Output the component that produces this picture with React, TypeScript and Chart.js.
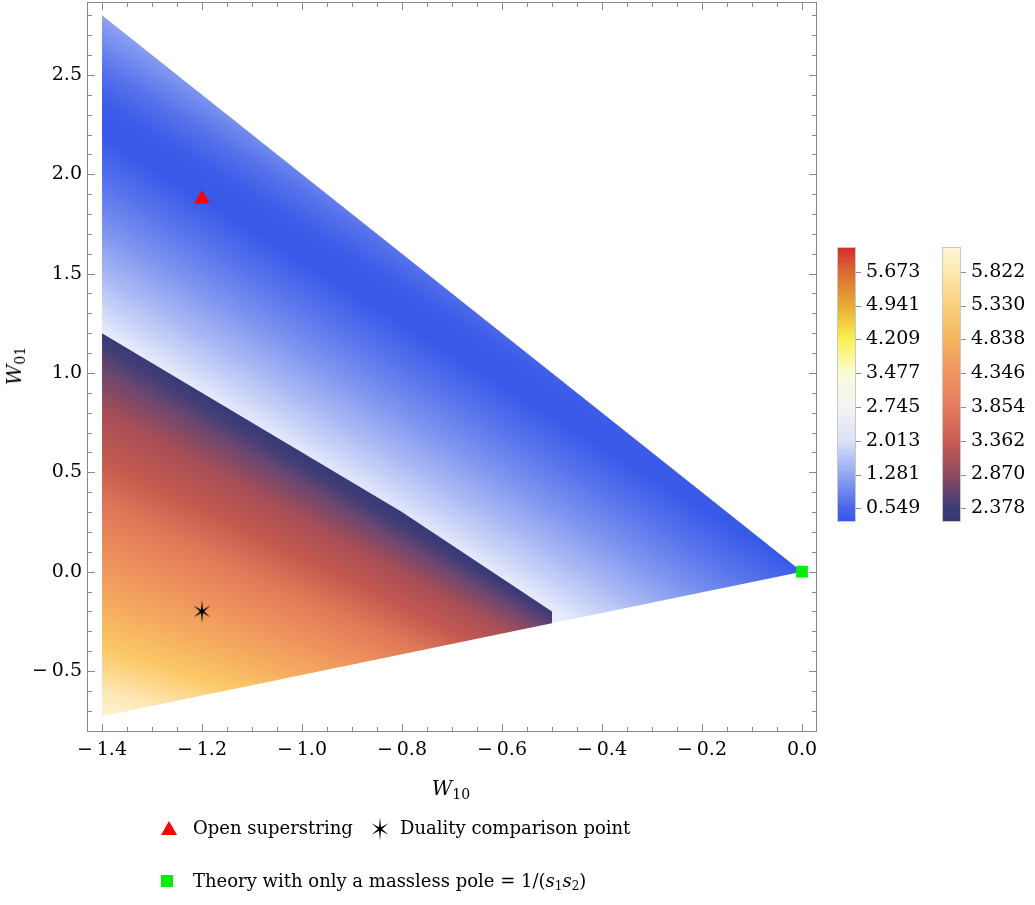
import React, { useEffect, useRef } from "react";
import { Chart, registerables } from "chart.js";
Chart.register(...registerables);

// ---- data ----
const blueRegionW10 = [-1.4, 0, -0.5, -0.5, -0.8, -1.4, -1.4];
const blueRegionW01 = [2.8, 0, -0.26, -0.2, 0.3, 1.2, 2.8];
const warmRegionW10 = [-1.4, -0.8, -0.5, -0.5, -1.4, -1.4];
const warmRegionW01 = [1.2, 0.3, -0.2, -0.26, -0.728, 1.2];
const openSuperstringW10 = [-1.2];
const openSuperstringW01 = [1.876];
const dualityPointW10 = [-1.2];
const dualityPointW01 = [-0.2];
const masslessPoleW10 = [0];
const masslessPoleW01 = [0];
const xTickValues = [-1.4, -1.2, -1.0, -0.8, -0.6, -0.4, -0.2, 0.0];
const yTickValues = [-0.5, 0.0, 0.5, 1.0, 1.5, 2.0, 2.5];
const coolBarTicks = [0.549, 1.281, 2.013, 2.745, 3.477, 4.209, 4.941, 5.673];
const warmBarTicks = [2.378, 2.87, 3.362, 3.854, 4.346, 4.838, 5.33, 5.822];

// ---- styles ----
const FONT = "'DejaVu Serif', serif";
const warmFanCenter = { x: 0.71, y: -2.07 }; // where the warm contour lines converge
const blueStops: [number, string][] = [
  [0, "#e8ecfb"], [0.07, "#cfd8f8"], [0.18, "#a9b8f4"], [0.32, "#7d94ef"],
  [0.46, "#5874ec"], [0.6, "#3858e9"], [0.7, "#3d5ce9"], [0.8, "#5571eb"], [1, "#9aaef2"],
];
// fraction 0 = boundary with the blue region (navy), 1 = far corner (cream)
const warmStops: [number, string][] = [
  [0, "#393a78"], [0.03, "#443e76"], [0.08, "#6a4670"], [0.18, "#a84e56"], [0.3, "#c45a50"],
  [0.42, "#e07858"], [0.55, "#ee905c"], [0.7, "#f6b060"], [0.8, "#fbc865"], [0.93, "#fde8b8"], [1, "#fdf3d3"],
];
const coolBarColors: [number, string][] = [
  [0.25, "#3556e8"], [0.549, "#4865ea"], [1.281, "#93a7f1"], [2.013, "#dce2f8"], [2.745, "#f3f3f3"],
  [3.477, "#fafbd6"], [4.209, "#fbf04f"], [4.941, "#e8aa35"], [5.673, "#dc6a33"], [6.21, "#d42b2b"],
];
const warmBarColors: [number, string][] = [
  [2.18, "#35366e"], [2.378, "#3c3c78"], [2.87, "#8e4a62"], [3.362, "#c85c52"], [3.854, "#e47c5c"],
  [4.346, "#ef9460"], [4.838, "#f6b45e"], [5.33, "#fbd07c"], [5.822, "#fde8b0"], [6.18, "#fdf5d6"],
];

const pts = (xs: number[], ys: number[]) => xs.map((x, i) => ({ x, y: ys[i] }));
const fmt = (v: number) => (v < -1e-9 ? "\u2212\u2009" : "") + Math.abs(v).toFixed(1);

function blueGradient(ctx: any) {
  const chart = ctx.chart;
  const { chartArea, scales } = chart;
  if (!chartArea) return "#888";
  const x = scales.x, y = scales.y;
  const ax = x.getPixelForValue(warmRegionW10[0]), ay = y.getPixelForValue(warmRegionW01[0]);
  const bx = x.getPixelForValue(warmRegionW10[2]), by = y.getPixelForValue(warmRegionW01[2]);
  const dx = bx - ax, dy = by - ay;
  const L = Math.hypot(dx, dy);
  const nx = dy / L, ny = -dx / L;
  const length = 280;
  const g = chart.ctx.createLinearGradient(ax, ay, ax + nx * length, ay + ny * length);
  blueStops.forEach(([o, c]) => g.addColorStop(o, c));
  return g;
}

function warmGradient(ctx: any) {
  const chart = ctx.chart;
  const { chartArea, scales } = chart;
  if (!chartArea) return "#888";
  const x = scales.x, y = scales.y;
  const cx = x.getPixelForValue(warmFanCenter.x), cy = y.getPixelForValue(warmFanCenter.y);
  const topX = x.getPixelForValue(warmRegionW10[0]), topY = y.getPixelForValue(warmRegionW01[0]);
  const botX = x.getPixelForValue(warmRegionW10[4]), botY = y.getPixelForValue(warmRegionW01[4]);
  let aTop = Math.atan2(topY - cy, topX - cx);
  let aBot = Math.atan2(botY - cy, botX - cx);
  if (aTop < 0) aTop += Math.PI * 2;
  if (aBot < 0) aBot += Math.PI * 2;
  const c2: any = chart.ctx;
  if (typeof c2.createConicGradient !== "function") return warmStops[5][1];
  const span = aTop - aBot;
  const g = c2.createConicGradient(aBot, cx, cy);
  warmStops.forEach(([f, c]) => g.addColorStop(((1 - f) * span) / (Math.PI * 2), c));
  g.addColorStop(Math.min(1, (span * 1.05) / (Math.PI * 2)), warmStops[0][1]);
  g.addColorStop(0.999, warmStops[warmStops.length - 1][1]);
  return g;
}

function makeStar() {
  const c = document.createElement("canvas");
  c.width = 24; c.height = 24;
  const g = c.getContext("2d")!;
  g.fillStyle = "#000";
  g.beginPath();
  const R = 11.5, r = 2.0;
  for (let k = 0; k < 12; k++) {
    const ang = -Math.PI / 2 + (k * Math.PI) / 6;
    const rad = k % 2 === 0 ? R : r;
    const px = 12 + Math.cos(ang) * rad * (k % 2 === 0 ? 0.85 : 1);
    const py = 12 + Math.sin(ang) * rad;
    if (k === 0) g.moveTo(px, py); else g.lineTo(px, py);
  }
  g.closePath();
  g.fill();
  return c;
}

const framePlugin = {
  id: "frameTicks",
  afterDraw(chart: any) {
    const { ctx, chartArea: a, scales } = chart;
    const x = scales.x, y = scales.y;
    ctx.save();
    ctx.strokeStyle = "#8a8a8a";
    ctx.lineWidth = 1;
    ctx.strokeRect(Math.round(a.left) - 0.5, Math.round(a.top) - 0.5, Math.round(a.right - a.left) + 1, Math.round(a.bottom - a.top) + 1);
    ctx.beginPath();
    for (let k = -29; k <= 0; k++) {
      const v = k * 0.05;
      if (v < x.min || v > x.max) continue;
      const major = k % 4 === 0;
      const len = major ? 7 : 4;
      const px = Math.round(x.getPixelForValue(v)) + 0.5;
      ctx.moveTo(px, a.bottom); ctx.lineTo(px, a.bottom - len);
      ctx.moveTo(px, a.top); ctx.lineTo(px, a.top + len);
    }
    for (let k = -8; k <= 29; k++) {
      const v = k * 0.1;
      if (v < y.min || v > y.max) continue;
      const major = k % 5 === 0;
      const len = major ? 7 : 4;
      const py = Math.round(y.getPixelForValue(v)) + 0.5;
      ctx.moveTo(a.left, py); ctx.lineTo(a.left + len, py);
      ctx.moveTo(a.right, py); ctx.lineTo(a.right - len, py);
    }
    ctx.stroke();

    // colour bars
    const drawBar = (left: number, ticks: number[], colors: [number, string][]) => {
      const t0 = 508.3, step = 33.8;
      const vy = (v: number) => t0 - ((v - ticks[0]) / (ticks[1] - ticks[0])) * step;
      const top = 247, bottom = 522, w = 19;
      const vTop = colors[colors.length - 1][0], vBot = colors[0][0];
      const g = ctx.createLinearGradient(0, vy(vTop), 0, vy(vBot));
      const span = vy(vBot) - vy(vTop);
      colors.forEach(([v, c]) => {
        const o = (vy(v) - vy(vTop)) / span;
        g.addColorStop(Math.min(1, Math.max(0, o)), c);
      });
      ctx.fillStyle = g;
      ctx.fillRect(left, top, w, bottom - top);
      ctx.strokeStyle = "#c8c8c8";
      ctx.strokeRect(left + 0.5, top + 0.5, w - 1, bottom - top - 1);
      ctx.strokeStyle = "#8a8a8a";
      ctx.fillStyle = "#000";
      ctx.font = `19px ${FONT}`;
      ctx.textBaseline = "middle";
      ctx.textAlign = "left";
      ctx.beginPath();
      ticks.forEach((t) => {
        const py = Math.round(vy(t)) + 0.5;
        ctx.moveTo(left + w, py); ctx.lineTo(left + w + 5, py);
      });
      ctx.stroke();
      ticks.forEach((t) => ctx.fillText(t.toFixed(3), left + w + 10, vy(t)));
    };
    drawBar(837, coolBarTicks, coolBarColors);
    drawBar(942, warmBarTicks, warmBarColors);
    ctx.restore();
  },
};

export default function App() {
  const ref = useRef<HTMLCanvasElement>(null);
  useEffect(() => {
    const canvas = ref.current!;
    const star = makeStar();
    const chart = new Chart(canvas, {
      type: "scatter",
      data: {
        datasets: [
          { data: pts(masslessPoleW10, masslessPoleW01), pointStyle: "rect", pointRadius: 8.3, backgroundColor: "#00ee00", borderWidth: 0 } as any,
          { data: pts(dualityPointW10, dualityPointW01), pointStyle: star, pointRadius: 12, backgroundColor: "#000", borderWidth: 0 } as any,
          { data: pts(openSuperstringW10, openSuperstringW01), pointStyle: "triangle", pointRadius: 9, backgroundColor: "#ff0000", borderWidth: 0 } as any,
          {
            type: "line", data: pts(warmRegionW10, warmRegionW01), showLine: true, pointRadius: 0, fill: "shape",
            borderColor: "rgba(0,0,0,0)", borderWidth: 1, tension: 0,
            backgroundColor: (ctx: any) => warmGradient(ctx),
          } as any,
          {
            type: "line", data: pts(blueRegionW10, blueRegionW01), showLine: true, pointRadius: 0, fill: "shape",
            borderColor: "rgba(0,0,0,0)", borderWidth: 1, tension: 0,
            backgroundColor: (ctx: any) => blueGradient(ctx),
          } as any,
        ],
      },
      options: {
        responsive: false,
        animation: false,
        layout: { autoPadding: false, padding: { left: 0, top: 3, right: 219, bottom: 124 } },
        plugins: { legend: { display: false }, tooltip: { enabled: false } },
        scales: {
          x: {
            type: "linear", min: -1.428, max: 0.028,
            afterBuildTicks: (s: any) => { s.ticks = xTickValues.map((v) => ({ value: v })); },
            afterFit: (s: any) => { s.height = 50; s.paddingLeft = 0; s.paddingRight = 0; },
            ticks: { callback: (v: any) => fmt(Number(v)), font: { family: FONT, size: 19 }, color: "#000", padding: 8, maxRotation: 0, autoSkip: false },
            grid: { display: false, drawTicks: false },
            border: { display: false },
          },
          y: {
            type: "linear", min: -0.802, max: 2.862,
            afterBuildTicks: (s: any) => { s.ticks = yTickValues.map((v) => ({ value: v })); },
            afterFit: (s: any) => { s.width = 88; s.paddingTop = 0; s.paddingBottom = 0; },
            ticks: { callback: (v: any) => fmt(Number(v)), font: { family: FONT, size: 19 }, color: "#000", padding: 6, autoSkip: false },
            grid: { display: false, drawTicks: false },
            border: { display: false },
          },
        },
      },
      plugins: [framePlugin],
    } as any);
    return () => chart.destroy();
  }, []);

  const label: React.CSSProperties = { position: "absolute", fontFamily: FONT, fontSize: 18, lineHeight: "24px", whiteSpace: "nowrap", color: "#000" };
  const starPoints = (() => {
    const a: string[] = [];
    for (let k = 0; k < 12; k++) {
      const ang = -Math.PI / 2 + (k * Math.PI) / 6;
      const rr = k % 2 === 0 ? 11.5 : 2.0;
      const sx = k % 2 === 0 ? 0.85 : 1;
      a.push(`${(11 + Math.cos(ang) * rr * sx).toFixed(2)},${(12 + Math.sin(ang) * rr).toFixed(2)}`);
    }
    return a.join(" ");
  })();
  return (
    <div style={{ position: "absolute", left: 0, top: 0, width: 1035, height: 905, background: "#fff", overflow: "hidden" }}>
      <canvas ref={ref} width={1035} height={905} style={{ position: "absolute", left: 0, top: 0 }} />
      <div style={{ ...label, left: 451, top: 791, transform: "translate(-50%,-50%)", fontSize: 20 }}>
        <i>W</i><span style={{ fontSize: 14, verticalAlign: "-4px" }}>10</span>
      </div>
      <div style={{ ...label, left: 17, top: 366, transform: "translate(-50%,-50%) rotate(-90deg)", fontSize: 20 }}>
        <i>W</i><span style={{ fontSize: 14, verticalAlign: "-4px" }}>01</span>
      </div>
      <svg style={{ position: "absolute", left: 160, top: 820 }} width="18" height="16">
        <polygon points="9,1 17,15 1,15" fill="#ff0000" />
      </svg>
      <div style={{ ...label, left: 193, top: 816 }}>Open superstring</div>
      <svg style={{ position: "absolute", left: 369, top: 817 }} width="22" height="24">
        <polygon points={starPoints} fill="#000" />
      </svg>
      <div style={{ ...label, left: 400, top: 816 }}>Duality comparison point</div>
      <div style={{ position: "absolute", left: 161, top: 875, width: 12, height: 12, background: "#00ee00" }} />
      <div style={{ ...label, left: 193, top: 869 }}>
        Theory with only a massless pole = 1/(<i>s</i><sub style={{ fontSize: 12, verticalAlign: "-3px" }}>1</sub><i>s</i><sub style={{ fontSize: 12, verticalAlign: "-3px" }}>2</sub>)
      </div>
    </div>
  );
}
